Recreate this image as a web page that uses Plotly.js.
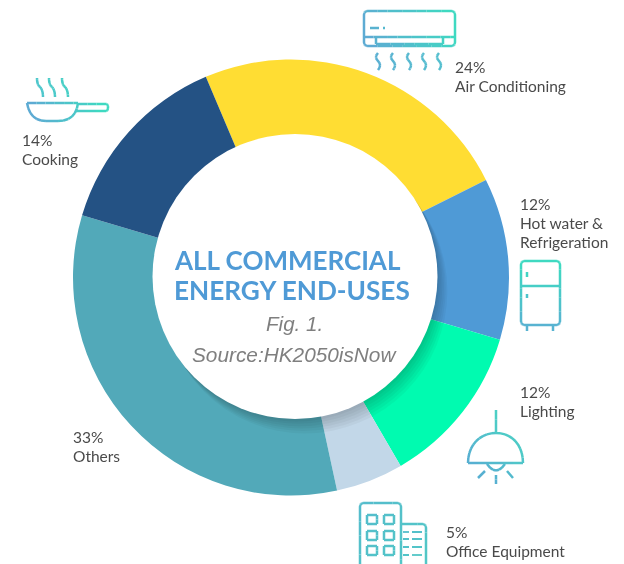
<!DOCTYPE html>
<html><head><meta charset="utf-8">
<script src="https://cdn.plot.ly/plotly-3.0.1.min.js"></script>
<style>html,body{margin:0;padding:0;background:#fff}#c{width:624px;height:564px;filter:blur(0.35px)}</style>
</head><body><div id="c"></div>
<script>
const categories = ["Air Conditioning","Hot water & Refrigeration","Lighting","Office Equipment","Others","Cooking"];
const shares = [24,12,12,5,33,14];
const sliceColors = ["#FFDD33","#4F9AD6","#00FBB0","#C2D7E8","#52A9B9","#245284"];
const labelLines = [["24%","Air Conditioning"],["12%","Hot water &","Refrigeration"],["12%","Lighting"],["5%","Office Equipment"],["33%","Others"],["14%","Cooking"]];
const labelAnchors = [[453,67],[518,204],[518,392],[444,532],[71,437],[20,140]];
const W=624,H=564;
const px=x=>(x/W).toFixed(5), py=y=>(1-y/H).toFixed(5);
const shapes=[];
function lerp(a,b,t){return a+(b-a)*t}
function hex(c){return [1,3,5].map(i=>parseInt(c.substr(i,2),16))}
function mix(a,b,t){const A=hex(a),B=hex(b);return 'rgb('+A.map((v,i)=>Math.round(lerp(v,B[i],t))).join(',')+')'}
// parse an icon outline in page pixels into short pieces
function pieces(s){const t=s.trim().split(/\s+/);let i=0,cur=null,start=null,out=[];
 const push=(p)=>{out.push([cur,p]);cur=p};
 while(i<t.length){const c=t[i++];
  if(c==='M'){cur=start=[+t[i],+t[i+1]];i+=2}
  else if(c==='L'){const e=[+t[i],+t[i+1]];i+=2;const a=cur,n=Math.max(1,Math.ceil(Math.hypot(e[0]-a[0],e[1]-a[1])/5));
    for(let k=1;k<=n;k++)push([lerp(a[0],e[0],k/n),lerp(a[1],e[1],k/n)])}
  else if(c==='Q'){const q=[+t[i],+t[i+1]],e=[+t[i+2],+t[i+3]];i+=4;const a=cur;
    for(let k=1;k<=6;k++){const u=k/6,v=1-u;push([v*v*a[0]+2*v*u*q[0]+u*u*e[0],v*v*a[1]+2*v*u*q[1]+u*u*e[1]])}}
  else if(c==='C'){const b=[+t[i],+t[i+1]],d=[+t[i+2],+t[i+3]],e=[+t[i+4],+t[i+5]];i+=6;const a=cur;
    for(let k=1;k<=10;k++){const u=k/10,v=1-u;push([0,1].map(j=>v*v*v*a[j]+3*v*v*u*b[j]+3*v*u*u*d[j]+u*u*u*e[j]))}}
  else if(c==='Z'){const a=cur,e=start,n=Math.max(1,Math.ceil(Math.hypot(e[0]-a[0],e[1]-a[1])/5));
    for(let k=1;k<=n;k++)push([lerp(a[0],e[0],k/n),lerp(a[1],e[1],k/n)])}
 }return out}
// icon: list of outlines stroked with a linear gradient from p0 to p1, bucketed by colour
function icon(paths,p0,p1,c0,c1,w){const N=8,b=Array.from({length:N},()=>'');const dx=p1[0]-p0[0],dy=p1[1]-p0[1],L=dx*dx+dy*dy;
 paths.forEach(s=>pieces(s).forEach(([a,e])=>{const mx=(a[0]+e[0])/2,my=(a[1]+e[1])/2;
   let t=((mx-p0[0])*dx+(my-p0[1])*dy)/L;t=Math.min(.999,Math.max(0,t));const k=Math.floor(t*N);
   b[k]+='M'+px(a[0])+','+py(a[1])+' L'+px(e[0])+','+py(e[1])+' ';}));
 b.forEach((d,k)=>{if(d)shapes.push({type:'path',xref:'paper',yref:'paper',path:d,line:{color:mix(c0,c1,(k+.5)/N),width:w||2.5},layer:'above'})})}
function circ(cx,cy,r,fill,op){shapes.push({type:'circle',xref:'paper',yref:'paper',x0:(cx-r)/W,x1:(cx+r)/W,y0:1-(cy+r)/H,y1:1-(cy-r)/H,fillcolor:fill,opacity:op,line:{width:0},layer:'above'})}
const CX=291,CY=277.5,R=218,HX=295,HY=276.5,HR=142.5;
[18,15,12,9,6,3].forEach(d=>circ(HX+d*0.55,HY+d*0.8,HR,'#000',0.035));
circ(HX,HY,HR,'#fff',1);
const teal='#3DDCC0',bl='#5FA8D4';
// air conditioner
icon(["M 368 11 L 451 11 Q 455 11 455 15 L 455 42 Q 455 46 451 46 L 368 46 Q 364 46 364 42 L 364 15 Q 364 11 368 11",
 "M 364 37 L 455 37","M 376 38 L 376 44 L 443 44 L 443 38","M 370 28 L 379 28","M 383 28 L 385 28"],[364,46],[455,11],bl,teal);
icon([378,393,409,424,439].map(x=>`M ${x} 53 Q ${x-4} 57 ${x} 61 Q ${x+4} 65 ${x} 70`),[378,70],[439,53],'#5AAFD2','#55C0CF');
// fridge
icon(["M 525 261 L 556 261 Q 560 261 560 265 L 560 321 Q 560 325 556 325 L 525 325 Q 521 325 521 321 L 521 265 Q 521 261 525 261",
 "M 521 286 L 560 286","M 527 272 L 527 277","M 527 294 L 527 298","M 527 325 L 527 331","M 553 325 L 553 331"],[540,261],[540,331],teal,'#5AB0D2');
// lamp
icon(["M 496 410 L 496 433","M 468 463 C 468 445 480 433 496 433 C 512 433 523 445 523 463 Z",
 "M 487 464 Q 496 477 505 464","M 478 478 L 485 471","M 496 475 L 496 484","M 507 471 L 513 478"],[470,480],[520,430],'#5AA8D4','#4BD2C4');
// office
icon(["M 360 564 L 360 507 Q 360 503 364 503 L 397 503 Q 401 503 401 507 L 401 564","M 401 524 L 422 524 Q 426 524 426 528 L 426 564",
 ...[[367,515],[384,515],[367,531],[384,531],[367,546],[384,546]].map(([x,y])=>`M ${x} ${y} L ${x+10} ${y} L ${x+10} ${y+9} L ${x} ${y+9} Z`)],[360,503],[426,564],'#55BCCC','#52C8C6');
icon([532,539,547,555].flatMap(y=>[`M 403 ${y} L 409 ${y}`,`M 412 ${y} L 422 ${y}`]),[402,530],[422,556],'#55BCCC','#52C8C6',1.8);
// pan
icon(["M 27 103 L 78 103 Q 76 121 58 121 L 46 121 Q 30 121 27 103 Z","M 78 104 L 106 104 Q 108 104 108 107 Q 108 111 106 111 L 76 111"],[30,121],[105,104],bl,teal);
icon([37,49,62].map(x=>`M ${x} 78 Q ${x} 84 ${x+2} 86 Q ${x+6} 89 ${x+6} 97`),[37,97],[68,78],'#50C4CE','#45D2C4');

const anns=[];
labelLines.forEach((ls,i)=>ls.forEach((t,j)=>anns.push({xref:'paper',yref:'paper',x:labelAnchors[i][0]/W,y:1-(labelAnchors[i][1]+j*19)/H,xanchor:'left',yanchor:'middle',showarrow:false,text:t,font:{family:'Lato',size:15.5,color:'#4a4a4a'}})));
function center(t,x,y,f){anns.push({xref:'paper',yref:'paper',x:x/W,y:1-y/H,xanchor:'center',yanchor:'middle',showarrow:false,text:t,font:f})}
center('<b>ALL COMMERCIAL</b>',287,260,{family:'Lato',size:26,color:'#4F9AD6'});
center('<b>ENERGY END-USES</b>',291.5,290,{family:'Lato',size:26.2,color:'#4F9AD6'});
center('<i>Fig. 1.</i>',294,323,{family:'Liberation Sans',size:20.6,color:'#7f7f7f'});
center('<i>Source:HK2050isNow</i>',294,354,{family:'Liberation Sans',size:20.8,color:'#7f7f7f'});

Plotly.newPlot('c',[{type:'pie',labels:categories,values:shares,hole:0.5,sort:false,direction:'clockwise',rotation:-23,
 marker:{colors:sliceColors,line:{width:0}},textinfo:'none',hoverinfo:'label',
 domain:{x:[(CX-R)/W,(CX+R)/W],y:[1-(CY+R)/H,1-(CY-R)/H]}}],
 {width:W,height:H,margin:{l:0,r:0,t:0,b:0,pad:0},paper_bgcolor:'#fff',showlegend:false,shapes:shapes,annotations:anns},
 {displayModeBar:false,staticPlot:true});
</script></body></html>
